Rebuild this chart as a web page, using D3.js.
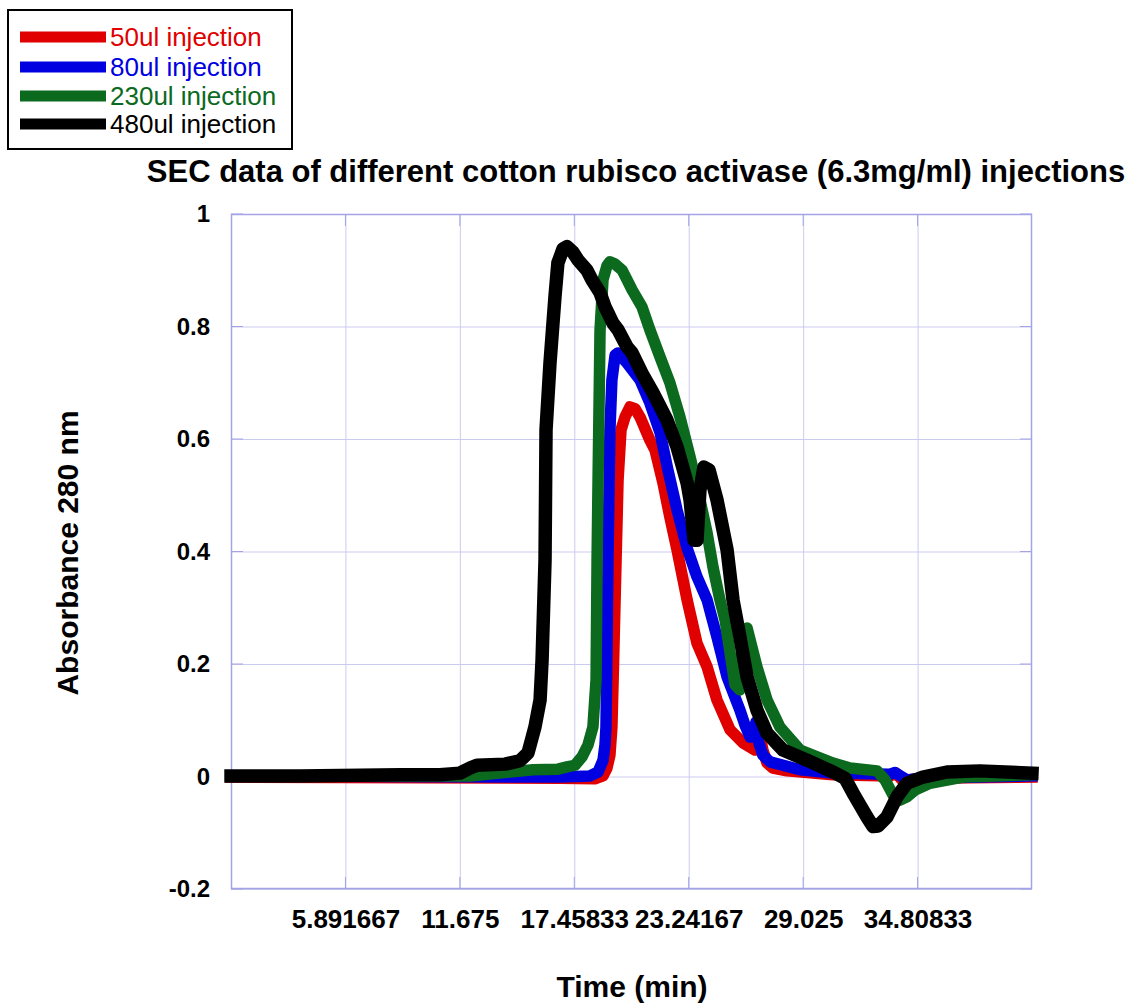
<!DOCTYPE html>
<html>
<head>
<meta charset="utf-8">
<script src="https://cdn.jsdelivr.net/npm/d3@7"></script>
<style>
  html, body { margin: 0; padding: 0; background: #ffffff; }
  svg { display: block; font-family: "Liberation Sans", Arial, sans-serif; }
</style>
</head>
<body>
<svg id="chart" width="1130" height="1005"></svg>
<script>
// Elution time (min) and absorbance at 280 nm for each injection volume
const series50ul = [
  [0.11,-0.001],[16.74,-0.003],[18.50,-0.004],[18.91,0.001],[19.11,0.015],[19.26,0.038],
  [19.36,0.088],[19.46,0.225],[19.57,0.385],[19.67,0.527],[19.82,0.616],[20.02,0.639],
  [20.27,0.657],[20.53,0.654],[20.78,0.639],[21.28,0.598],[21.54,0.580],[21.94,0.522],
  [22.29,0.461],[22.65,0.403],[23.16,0.314],[23.66,0.237],[24.17,0.195],[24.67,0.136],
  [25.33,0.083],[25.98,0.060],[26.59,0.047],[26.74,0.056],[26.89,0.065],[26.99,0.047],
  [27.20,0.024],[27.50,0.015],[28.21,0.010],[30.53,0.003],[33.41,0.001],[33.72,0.006],
  [34.07,-0.008],[34.93,-0.003],[40.59,-0.001]
];
const series80ul = [
  [0.11,0.001],[16.74,-0.001],[18.25,0.001],[18.66,0.008],[18.91,0.029],[19.01,0.056],
  [19.06,0.088],[19.11,0.225],[19.16,0.385],[19.26,0.616],[19.36,0.705],[19.52,0.749],
  [19.67,0.753],[20.12,0.735],[20.78,0.705],[21.28,0.664],[21.79,0.612],[22.19,0.545],
  [22.65,0.474],[23.16,0.406],[23.66,0.355],[24.17,0.314],[24.67,0.248],[25.18,0.177],
  [25.83,0.118],[26.08,0.092],[26.34,0.070],[26.54,0.074],[26.64,0.097],[26.74,0.065],
  [26.99,0.038],[27.35,0.026],[28.87,0.012],[30.53,0.006],[33.41,0.004],[33.67,0.007],
  [34.27,-0.006],[34.93,-0.003],[40.59,0.001]
];
const series230ul = [
  [0.11,0.001],[8.65,0.001],[12.19,0.001],[15.37,0.012],[16.63,0.013],[17.09,0.017],
  [17.49,0.020],[17.85,0.035],[18.15,0.056],[18.40,0.088],[18.56,0.172],[18.61,0.385],
  [18.66,0.527],[18.76,0.794],[18.91,0.883],[19.11,0.908],[19.26,0.915],[19.52,0.911],
  [19.88,0.900],[20.38,0.865],[20.88,0.835],[21.28,0.794],[21.79,0.746],[22.29,0.700],
  [22.80,0.639],[23.31,0.568],[23.81,0.492],[24.17,0.433],[24.47,0.372],[24.82,0.314],
  [25.08,0.278],[25.58,0.163],[25.83,0.154],[25.98,0.257],[26.19,0.264],[26.69,0.195],
  [27.20,0.136],[27.85,0.088],[28.87,0.047],[30.53,0.024],[31.39,0.015],[32.76,0.010],
  [33.16,-0.006],[33.57,-0.033],[33.92,-0.042],[34.27,-0.036],[34.68,-0.024],[35.43,-0.012],
  [37.10,-0.001],[40.59,0.003]
];
const series480ul = [
  [0.11,0.001],[3.60,0.001],[8.65,0.003],[10.67,0.003],[11.68,0.006],[12.19,0.015],
  [12.54,0.020],[13.96,0.022],[14.71,0.028],[15.12,0.042],[15.47,0.088],[15.73,0.136],
  [15.83,0.207],[15.98,0.385],[16.03,0.616],[16.23,0.735],[16.48,0.852],[16.63,0.913],
  [16.89,0.938],[17.09,0.942],[17.39,0.932],[17.65,0.918],[18.10,0.900],[18.35,0.883],
  [18.76,0.860],[19.01,0.835],[19.41,0.806],[19.67,0.794],[20.12,0.764],[20.38,0.753],
  [20.88,0.717],[21.44,0.682],[22.14,0.634],[22.65,0.586],[23.16,0.522],[23.31,0.492],
  [23.51,0.420],[23.66,0.420],[23.81,0.509],[24.01,0.550],[24.27,0.545],[24.67,0.492],
  [25.18,0.403],[25.48,0.314],[25.83,0.248],[26.19,0.177],[26.69,0.118],[27.20,0.077],
  [28.01,0.047],[29.22,0.029],[30.53,0.008],[31.14,-0.003],[31.54,-0.029],[31.90,-0.051],
  [32.25,-0.072],[32.56,-0.089],[32.81,-0.088],[33.26,-0.072],[33.77,-0.036],[34.27,-0.012],
  [35.08,-0.001],[36.30,0.008],[37.96,0.010],[40.59,0.006]
];

const seriesNames  = ["50ul injection", "80ul injection", "230ul injection", "480ul injection"];
const seriesColors = ["#e00000", "#0000e0", "#0b6a1e", "#000000"];
const seriesWidths = [11.5, 11.5, 11.5, 13.5];
const seriesData   = [series50ul, series80ul, series230ul, series480ul];

const xDomain = [0.108333, 40.591667];
const xTickValues = [5.891667, 11.675, 17.45833, 23.24167, 29.025, 34.80833];
const xTickLabels = ["5.891667", "11.675", "17.45833", "23.24167", "29.025", "34.80833"];
const yDomain = [-0.2, 1];
const yTickValues = [-0.2, 0, 0.2, 0.4, 0.6, 0.8, 1];
const yTickLabels = ["-0.2", "0", "0.2", "0.4", "0.6", "0.8", "1"];

const titleText = "SEC data of different cotton rubisco activase (6.3mg/ml) injections";
const xTitle = "Time (min)";
const yTitle = "Absorbance 280 nm";

const svg = d3.select("#chart");
const plot = { left: 231, right: 1032, top: 214, bottom: 889 };
const gridColor = "#cbcbef";
const frameColor = "#a3a3e6";

const x = d3.scaleLinear().domain(xDomain).range([plot.left, plot.right]);
const y = d3.scaleLinear().domain(yDomain).range([plot.bottom, plot.top]);

// grid lines
const gx = svg.append("g").attr("transform", `translate(0,${plot.bottom})`)
  .call(d3.axisBottom(x).tickValues(xTickValues).tickSize(-(plot.bottom - plot.top)).tickFormat(""));
gx.select(".domain").remove();
gx.selectAll("line").attr("stroke", gridColor).attr("stroke-width", 1);

const gy = svg.append("g").attr("transform", `translate(${plot.left},0)`)
  .call(d3.axisLeft(y).tickValues(yTickValues).tickSize(-(plot.right - plot.left)).tickFormat(""));
gy.select(".domain").remove();
gy.selectAll("line").attr("stroke", gridColor).attr("stroke-width", 1);

// short inner tick marks along the frame
const tickLen = 12;
const ticks = svg.append("g").attr("stroke", frameColor).attr("stroke-width", 1);
xTickValues.forEach(v => {
  ticks.append("line").attr("x1", x(v)).attr("x2", x(v)).attr("y1", plot.bottom).attr("y2", plot.bottom - tickLen);
  ticks.append("line").attr("x1", x(v)).attr("x2", x(v)).attr("y1", plot.top).attr("y2", plot.top + tickLen);
});
yTickValues.forEach(v => {
  ticks.append("line").attr("y1", y(v)).attr("y2", y(v)).attr("x1", plot.left).attr("x2", plot.left + tickLen);
  ticks.append("line").attr("y1", y(v)).attr("y2", y(v)).attr("x1", plot.right).attr("x2", plot.right - tickLen);
});

// frame
svg.append("rect")
  .attr("x", plot.left + 0.5).attr("y", plot.top + 0.5)
  .attr("width", plot.right - plot.left - 1).attr("height", plot.bottom - plot.top - 1)
  .attr("fill", "none").attr("stroke", frameColor).attr("stroke-width", 1.5);

// chromatogram traces
const line = d3.line().x(d => x(d[0])).y(d => y(d[1]));
seriesData.forEach((data, i) => {
  svg.append("path")
    .datum(data)
    .attr("d", line)
    .attr("fill", "none")
    .attr("stroke", seriesColors[i])
    .attr("stroke-width", seriesWidths[i])
    .attr("stroke-linejoin", "round")
    .attr("stroke-linecap", "square");
});

// tick labels
const xl = svg.append("g").attr("transform", `translate(0,${plot.bottom})`)
  .call(d3.axisBottom(x).tickValues(xTickValues).tickSize(0).tickPadding(0)
    .tickFormat((d, i) => xTickLabels[i]));
xl.select(".domain").remove();
xl.selectAll("text")
  .attr("y", 39).attr("dy", null)
  .attr("font-family", "'Liberation Sans', Arial, sans-serif")
  .attr("font-size", 26).attr("font-weight", "bold").attr("fill", "#000");

const yl = svg.append("g").attr("transform", `translate(${plot.left},0)`)
  .call(d3.axisLeft(y).tickValues(yTickValues).tickSize(0).tickPadding(21)
    .tickFormat((d, i) => yTickLabels[i]));
yl.select(".domain").remove();
yl.selectAll("text")
  .attr("font-family", "'Liberation Sans', Arial, sans-serif")
  .attr("font-size", 24).attr("font-weight", "bold").attr("fill", "#000");

// titles
svg.append("text")
  .attr("x", 636).attr("y", 182)
  .attr("text-anchor", "middle")
  .attr("font-size", 31).attr("font-weight", "bold")
  .text(titleText);

svg.append("text")
  .attr("x", 632).attr("y", 997)
  .attr("text-anchor", "middle")
  .attr("font-size", 30).attr("font-weight", "bold")
  .text(xTitle);

svg.append("text")
  .attr("transform", "translate(78,553) rotate(-90)")
  .attr("text-anchor", "middle")
  .attr("font-size", 30).attr("font-weight", "bold")
  .text(yTitle);

// legend
const legend = svg.append("g");
legend.append("rect")
  .attr("x", 8).attr("y", 10).attr("width", 284).attr("height", 139)
  .attr("fill", "#fff").attr("stroke", "#000").attr("stroke-width", 2);
const legendRows = [37, 67, 96, 124];
seriesNames.forEach((name, i) => {
  legend.append("line")
    .attr("x1", 20).attr("x2", 106)
    .attr("y1", legendRows[i]).attr("y2", legendRows[i])
    .attr("stroke", seriesColors[i]).attr("stroke-width", 11);
  legend.append("text")
    .attr("x", 110).attr("y", legendRows[i] + 9)
    .attr("font-size", 26)
    .attr("fill", seriesColors[i])
    .text(name);
});
</script>
</body>
</html>
